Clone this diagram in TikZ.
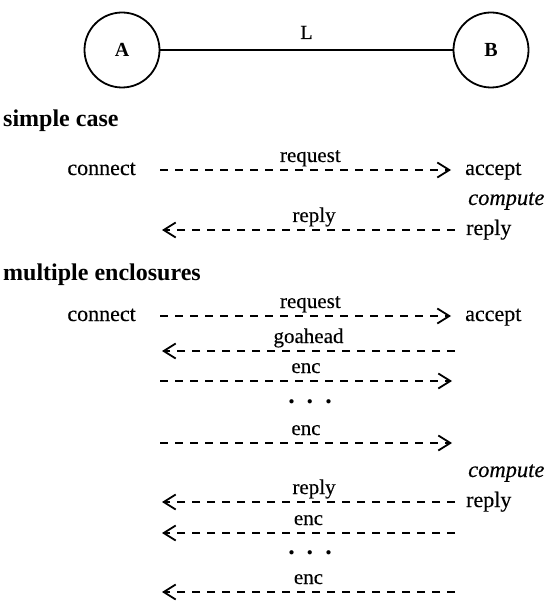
\documentclass[tikz,border=0pt]{standalone}
\usepackage{fontspec}
\setmainfont{Liberation Serif}[UprightFeatures={FakeBold=0.3},ItalicFeatures={FakeBold=0.3}]
\usetikzlibrary{
	arrows.meta,
}

\begin{document}
\begin{tikzpicture}[x=1pt,y=-1pt]
		\tikzstyle{every node}+=[inner sep=0pt]
		\tikzstyle{host}=[draw,circle,line width=1.8pt,minimum size=75pt,font=\fontsize{20}{22}\selectfont\bfseries]
		\tikzstyle{word}=[font=\fontsize{22}{24}\selectfont,text height=15pt,text depth=5pt]
		\tikzstyle{task}=[word,font=\fontsize{22.5}{24}\selectfont\itshape,anchor=west]
		\tikzstyle{head}=[font=\fontsize{24}{26}\selectfont\bfseries,anchor=base west]
		\tikzstyle{lbl}=[font=\fontsize{21}{23}\selectfont,anchor=base,yshift=8pt]
		\tikzstyle{msg}=[line width=1.8pt,dash pattern=on 8pt off 7pt,-{Straight Barb[length=12pt,width=15pt,line width=1.8pt]}]
		\tikzstyle{more}=[font=\fontsize{26}{28}\selectfont\bfseries]
		\useasboundingbox (0,0) rectangle (550,601);
		\node [host] (A) at (122,50) {A};
		\node [host] (B) at (491,50) {B};
		\draw [line width=1.8pt] (A) -- node [midway,font=\fontsize{20}{22}\selectfont,anchor=base,yshift=11pt] {L} (B);
		\node [head] (simple) at (3,127) {simple case};
		\node [word,anchor=east] (sconn) at (136,170) {connect};
		\node [word,anchor=west] (sacc) at (465,170) {accept};
		\node [task] (scomp) at (468,200) {compute};
		\node [word,anchor=west] (srep) at (466,230) {reply};
		\coordinate (sback) at (162,230);
		\draw [msg,shorten <=24pt,shorten >=14pt] (sconn) -- node [lbl,pos=0.53] {request} (sacc);
		\draw [msg,shorten <=11pt] (srep) -- node [lbl,pos=0.5] {reply} (sback);
		\node [head] (multi) at (3,280) {multiple enclosures};
		\node [word,anchor=east] (mconn) at (136,316) {connect};
		\node [word,anchor=west] (macc) at (465,316) {accept};
		\draw [msg,shorten <=24pt,shorten >=14pt] (mconn) -- node [lbl,pos=0.53] {request} (macc);
		\coordinate (g1) at (455,351);
		\coordinate (g0) at (162,351);
		\draw [msg] (g1) -- node [lbl] {goahead} (g0);
		\coordinate (e0) at (160,381);
		\coordinate (e1) at (452,381);
		\draw [msg] (e0) -- node [lbl] {enc} (e1);
		\node [more] (dotsa) at (310,402) {.\hspace{12pt}.\hspace{12pt}.};
		\coordinate (f0) at (160,443);
		\coordinate (f1) at (452,443);
		\draw [msg] (f0) -- node [lbl] {enc} (f1);
		\node [task] (mcomp) at (468,472) {compute};
		\node [word,anchor=west] (mrep) at (466,502) {reply};
		\coordinate (mback) at (162,502);
		\draw [msg,shorten <=11pt] (mrep) -- node [lbl,pos=0.5] {reply} (mback);
		\coordinate (h1) at (455,533);
		\coordinate (h0) at (162,533);
		\draw [msg] (h1) -- node [lbl] {enc} (h0);
		\node [more] (dotsb) at (310,553) {.\hspace{12pt}.\hspace{12pt}.};
		\coordinate (k1) at (455,592);
		\coordinate (k0) at (162,592);
		\draw [msg] (k1) -- node [lbl] {enc} (k0);
		\end{tikzpicture}
\end{document}
